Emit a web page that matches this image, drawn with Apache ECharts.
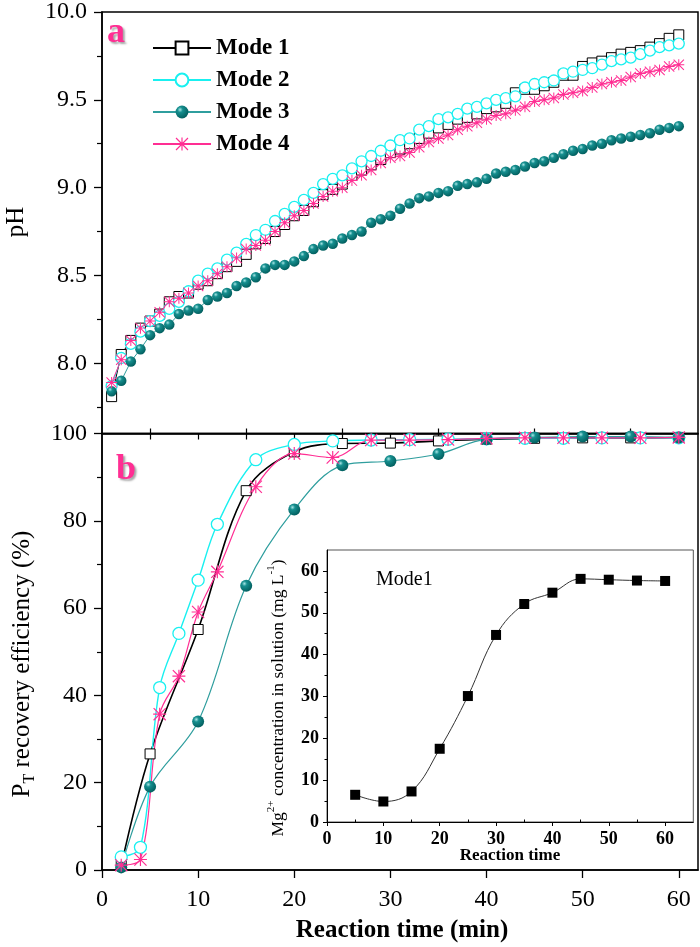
<!DOCTYPE html>
<html><head><meta charset="utf-8">
<script src="https://cdn.jsdelivr.net/npm/echarts@6/dist/echarts.min.js"></script>
<style>html,body{margin:0;padding:0;background:#fff}#c{width:700px;height:947px}</style>
</head><body><div id="c"></div>
<script>
// ---------- Panel a: pH vs time (min) ----------
const timeA = [1,2,3,4,5,6,7,8,9,10,11,12,13,14,15,16,17,18,19,20,21,22,23,24,25,26,27,28,29,30,
  31,32,33,34,35,36,37,38,39,40,41,42,43,44,45,46,47,48,49,50,51,52,53,54,55,56,57,58,59,60];
const pHMode1 = [7.81,8.05,8.13,8.20,8.24,8.28,8.35,8.38,8.40,8.45,8.47,8.51,8.55,8.58,8.62,8.68,8.71,8.75,8.79,8.84,
  8.87,8.92,8.96,8.99,9.02,9.07,9.10,9.13,9.16,9.20,9.22,9.25,9.28,9.31,9.34,9.36,9.39,9.40,9.42,9.45,
  9.46,9.48,9.54,9.56,9.56,9.58,9.60,9.64,9.64,9.69,9.71,9.72,9.74,9.76,9.77,9.78,9.80,9.82,9.85,9.87];
const pHMode2 = [7.87,8.03,8.11,8.18,8.24,8.27,8.31,8.35,8.41,8.47,8.51,8.54,8.59,8.63,8.68,8.73,8.76,8.81,8.85,8.89,
  8.93,8.97,9.02,9.05,9.07,9.11,9.15,9.18,9.21,9.24,9.27,9.28,9.33,9.35,9.39,9.40,9.42,9.45,9.46,9.48,
  9.50,9.51,9.52,9.57,9.59,9.60,9.61,9.65,9.66,9.67,9.68,9.70,9.72,9.73,9.74,9.76,9.78,9.80,9.81,9.82];
const pHMode3 = [7.84,7.90,8.01,8.08,8.16,8.20,8.22,8.28,8.30,8.31,8.36,8.38,8.40,8.44,8.46,8.49,8.54,8.56,8.56,8.58,
  8.61,8.65,8.67,8.68,8.71,8.73,8.75,8.80,8.82,8.84,8.88,8.91,8.94,8.95,8.97,8.98,9.01,9.02,9.03,9.05,
  9.08,9.09,9.10,9.12,9.14,9.15,9.17,9.19,9.21,9.22,9.24,9.25,9.27,9.28,9.29,9.30,9.31,9.33,9.34,9.35];
const pHMode4 = [7.89,8.02,8.13,8.20,8.24,8.29,8.35,8.37,8.40,8.44,8.47,8.51,8.55,8.60,8.65,8.67,8.70,8.75,8.80,8.84,
  8.87,8.91,8.95,8.98,9.00,9.04,9.07,9.10,9.14,9.17,9.18,9.20,9.23,9.26,9.28,9.30,9.33,9.35,9.37,9.39,
  9.41,9.42,9.44,9.46,9.49,9.50,9.51,9.53,9.54,9.55,9.57,9.59,9.60,9.61,9.63,9.65,9.66,9.67,9.69,9.70];

// ---------- Panel b: P_T recovery efficiency (%) ----------
const timeB13 = [2,5,10,15,20,25,30,35,40,45,50,55,60];
const effMode1 = [1.0,26.6,55.1,86.9,95.8,97.7,97.8,98.3,98.7,98.9,99.0,99.0,99.1];
const effMode3 = [0.6,19.1,34.0,65.1,82.6,92.7,93.7,95.3,98.7,99.1,99.3,99.3,99.1];
const timeB18 = [2,4,6,8,10,12,16,20,24,28,32,36,40,44,48,52,56,60];
const effMode2 = [3.0,5.2,41.8,54.2,66.4,79.2,94.0,97.5,98.3,98.5,98.6,98.7,98.8,98.9,98.9,99.0,99.0,99.0];
const effMode4 = [1.1,2.4,35.7,44.4,59.1,68.3,87.8,95.4,94.5,98.5,98.5,98.6,98.9,99.0,99.0,99.0,99.0,99.1];

// ---------- Inset: Mg2+ concentration, Mode1 ----------
const timeInset = [5,10,15,20,25,30,35,40,45,50,55,60];
const mgMode1 = [6.5,4.9,7.3,17.5,30.1,44.7,52.1,54.8,58.1,57.9,57.7,57.6];

// ---------- Tick labels ----------
const pHTicks = [8.0,8.5,9.0,9.5,10.0];
const pHMinorTicks = [7.75,8.25,8.75,9.25,9.75];
const timeTicks = [0,10,20,30,40,50,60];
const timeMinorTicks = [5,15,25,35,45,55];
const topTicks = [5,10,15,20,25,30,35,40,45,50,55,60];
const insetTicks = [0,10,20,30,40,50,60];
const insetMinorTicks = [5,15,25,35,45,55];

const zip = (xs, ys) => xs.map((x, i) => [x, ys[i]]);
const FONT = '"Liberation Serif","Times New Roman","DejaVu Serif",serif';
const C1 = '#000000', C2 = '#19F0F0', C3L = '#2f9e9e', C4 = '#FF2E93';
const STAR = 'path://M9.1 0H10.9V20H9.1Z M0 9.1H20V10.9H0Z M1.3 0L20 18.7L18.7 20L0 1.3Z M18.7 0L20 1.3L1.3 20L0 18.7Z';
const sphere = {type:'radial', x:0.35, y:0.32, r:0.75, colorStops:[
  {offset:0, color:'#a8e6e6'},{offset:0.28, color:'#168f8f'},{offset:1, color:'#005a5a'}]};

const styles = {
  'Mode 1': {symbol:'rect', itemStyle:{color:'#fff', borderColor:C1, borderWidth:1}, lineStyle:{color:C1, width:1}},
  'Mode 2': {symbol:'circle', itemStyle:{color:'#fff', borderColor:C2, borderWidth:1.3}, lineStyle:{color:C2, width:1}},
  'Mode 3': {symbol:'circle', itemStyle:{color:sphere}, lineStyle:{color:C3L, width:1}},
  'Mode 4': {symbol:STAR, itemStyle:{color:C4}, lineStyle:{color:C4, width:1}}
};
function ser(name, xi, yi, data, size, extra) {
  const s = styles[name];
  return Object.assign({type:'line', name, xAxisIndex:xi, yAxisIndex:yi, data,
    symbol:s.symbol, symbolSize:size, itemStyle:s.itemStyle, lineStyle:s.lineStyle,
    showAllSymbol:true, animation:false, emphasis:{disabled:true}}, extra||{});
}
const axisLineBlack = {show:true, lineStyle:{color:'#000', width:1.5}};
const lab = (size, bold, margin, extra) => Object.assign({fontFamily:FONT, fontSize:size,
  fontWeight: bold ? 'bold' : 'normal', color:'#000', margin}, extra||{});

const option = {
  backgroundColor:'#fff',
  animation:false,
  grid:[
    {left:102, top:10, right:2, height:423.5, show:true, borderColor:'#000', borderWidth:1.5},
    {left:102, top:433.5, right:2, height:436.5, show:true, borderColor:'#000', borderWidth:1.5},
    {left:327, top:550, right:6.7, height:272, show:true, borderColor:'#555', borderWidth:1, backgroundColor:'#fff'}
  ],
  xAxis:[
    {type:'value', gridIndex:0, min:0, max:62, axisLine:axisLineBlack,
      axisTick:{show:true, customValues:topTicks, length:6, lineStyle:{width:1.2}},
      axisLabel:{show:false}, splitLine:{show:false}},
    {type:'value', gridIndex:1, min:0, max:62, axisLine:axisLineBlack,
      axisTick:{show:true, customValues:timeTicks, length:8, lineStyle:{width:1.3}},
      axisLabel:lab(24, false, 18, {customValues:timeTicks}), splitLine:{show:false}},
    {type:'value', gridIndex:1, min:0, max:62, axisLine:{show:false},
      axisTick:{show:true, customValues:timeMinorTicks, length:5, lineStyle:{width:1.2, color:'#000'}},
      axisLabel:{show:false}, splitLine:{show:false}},
    {type:'value', gridIndex:2, min:0, max:65, axisLine:{show:true, lineStyle:{color:'#000', width:1}},
      axisTick:{show:true, customValues:insetTicks, length:4, lineStyle:{width:1}},
      axisLabel:lab(18, true, 8, {customValues:insetTicks}), splitLine:{show:false}},
    {type:'value', gridIndex:2, min:0, max:65, axisLine:{show:false},
      axisTick:{show:true, customValues:insetMinorTicks, length:2.5, lineStyle:{width:1, color:'#000'}},
      axisLabel:{show:false}, splitLine:{show:false}}
  ],
  yAxis:[
    {type:'value', gridIndex:0, position:'left', min:7.6, max:10, axisLine:axisLineBlack,
      axisTick:{show:true, customValues:pHTicks, length:8, lineStyle:{width:1.3}},
      axisLabel:lab(24, false, 15, {customValues:pHTicks, formatter:v => Number(v).toFixed(1)}),
      splitLine:{show:false}},
    {type:'value', gridIndex:0, position:'left', offset:0, min:7.6, max:10, axisLine:{show:false},
      axisTick:{show:true, customValues:pHMinorTicks, length:5, lineStyle:{width:1.2, color:'#000'}},
      axisLabel:{show:false}, splitLine:{show:false}},
    {type:'value', gridIndex:1, min:0, max:100, interval:20, axisLine:axisLineBlack,
      axisTick:{show:true, length:8, lineStyle:{width:1.3}},
      minorTick:{show:true, splitNumber:2, length:5, lineStyle:{color:'#000', width:1.2}},
      axisLabel:lab(24, false, 15), splitLine:{show:false}, minorSplitLine:{show:false}},
    {type:'value', gridIndex:2, position:'left', min:0, max:65, axisLine:{show:true, lineStyle:{color:'#000', width:1}},
      axisTick:{show:true, customValues:insetTicks, length:4, lineStyle:{width:1}},
      axisLabel:lab(18, true, 8, {customValues:insetTicks}), splitLine:{show:false}},
    {type:'value', gridIndex:2, position:'left', offset:0, min:0, max:65, axisLine:{show:false},
      axisTick:{show:true, customValues:insetMinorTicks, length:2.5, lineStyle:{width:1, color:'#000'}},
      axisLabel:{show:false}, splitLine:{show:false}}
  ],
  legend:{
    orient:'vertical', left:147, top:31.5, itemWidth:58, itemHeight:16, itemGap:9,
    data:['Mode 1','Mode 2','Mode 3','Mode 4'], selectedMode:false,
    textStyle:{fontFamily:FONT, fontSize:23, fontWeight:'bold', color:'#000'}
  },
  series:[
    ser('Mode 1', 0, 0, zip(timeA, pHMode1), 10),
    ser('Mode 2', 0, 0, zip(timeA, pHMode2), 11),
    ser('Mode 3', 0, 0, zip(timeA, pHMode3), 10.5),
    ser('Mode 4', 0, 0, zip(timeA, pHMode4), 11),
    ser('Mode 1', 1, 2, zip(timeB13, effMode1), 10, {smooth:0.35, lineStyle:{color:C1, width:1.6}}),
    ser('Mode 2', 1, 2, zip(timeB18, effMode2), 12, {smooth:0.35, lineStyle:{color:C2, width:1.4}}),
    ser('Mode 3', 1, 2, zip(timeB13, effMode3), 12, {smooth:0.35, lineStyle:{color:C3L, width:1.2}}),
    ser('Mode 4', 1, 2, zip(timeB18, effMode4), 13, {smooth:0.35, lineStyle:{color:C4, width:1.2}}),
    {type:'line', name:'Mg2+', xAxisIndex:3, yAxisIndex:3, data:zip(timeInset, mgMode1),
      symbol:'rect', symbolSize:10, itemStyle:{color:'#000'}, lineStyle:{color:'#333', width:1},
      smooth:0.4, animation:false}
  ],
  graphic:[
    {type:'text', x:16, y:222, rotation:Math.PI/2, style:{text:'pH', font:'25px ' + FONT,
      fill:'#000', align:'center', verticalAlign:'middle'}},
    {type:'text', x:22, y:664, rotation:Math.PI/2, style:{
      text:'{n|P}{s|T}{n| recovery efficiency (%)}', align:'center', verticalAlign:'middle',
      rich:{n:{fontFamily:FONT, fontSize:25, lineHeight:32, fill:'#000'},
            s:{fontFamily:FONT, fontSize:16, lineHeight:16, fill:'#000', verticalAlign:'bottom'}}}},
    {type:'text', x:402, y:931, style:{text:'Reaction time (min)', font:'bold 25px ' + FONT,
      fill:'#000', align:'center', verticalAlign:'middle'}},
    {type:'text', x:278, y:698, rotation:Math.PI/2, style:{
      text:'{n|Mg}{p|2+}{n| concentration in solution (mg L}{p|-1}{n|)}', align:'center', verticalAlign:'middle',
      rich:{n:{fontFamily:FONT, fontSize:17.5, lineHeight:24, fill:'#000'},
            p:{fontFamily:FONT, fontSize:11, lineHeight:11, fill:'#000', verticalAlign:'top'}}}},
    {type:'text', x:510, y:856, style:{text:'Reaction time', font:'bold 17px ' + FONT,
      fill:'#000', align:'center', verticalAlign:'middle'}},
    {type:'text', x:376, y:580, style:{text:'Mode1', font:'20px ' + FONT,
      fill:'#000', align:'left', verticalAlign:'middle'}},
    {type:'text', x:107, y:33, style:{text:'a', font:'bold 36px ' + FONT, fill:C4, align:'left',
      verticalAlign:'middle', textShadowColor:'rgba(0,0,0,0.35)', textShadowOffsetX:2, textShadowOffsetY:2, textShadowBlur:2}},
    {type:'text', x:116, y:470, style:{text:'b', font:'bold 36px ' + FONT, fill:C4, align:'left',
      verticalAlign:'middle', textShadowColor:'rgba(0,0,0,0.35)', textShadowOffsetX:2, textShadowOffsetY:2, textShadowBlur:2}}
  ]
};
const chart = echarts.init(document.getElementById('c'), null, {renderer:'canvas'});
chart.setOption(option);
</script></body></html>
